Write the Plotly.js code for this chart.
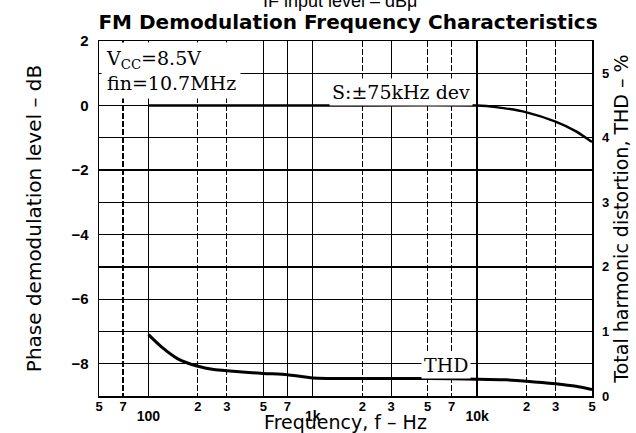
<!DOCTYPE html>
<html><head><meta charset="utf-8">
<script src="https://cdn.plot.ly/plotly-3.0.1.min.js"></script>
<style>html,body{margin:0;padding:0;background:#fff;}#chart{width:636px;height:433px;}</style>
</head><body><div id="chart"></div>
<script>
// Phase demodulation level (left axis, dB)
const levelFreq = [100, 1000, 10000, 13000, 20000, 30000, 40000, 50000];
const levelDb   = [0, 0, 0, -0.05, -0.21, -0.5, -0.8, -1.13];
// Total harmonic distortion (right axis, %)
const thdFreq = [100, 120, 150, 200, 250, 300, 500, 700, 1000, 2000, 3000, 5000, 10000, 15000, 20000, 30000, 40000, 50000];
const thdPct  = [0.95, 0.76, 0.58, 0.46, 0.41, 0.39, 0.35, 0.33, 0.28, 0.27, 0.27, 0.27, 0.26, 0.25, 0.23, 0.19, 0.15, 0.10];
// x tick labels and grid
const minorTickVals = [50, 70, 200, 300, 500, 700, 2000, 3000, 5000, 7000, 20000, 30000, 50000];
const minorTickText = ['5', '7', '2', '3', '5', '7', '2', '3', '5', '7', '2', '3', '5'];
const majorTickVals = [100, 1000, 10000];
const majorTickText = ['100', '1k', '10k'];
const extraSolidGridVals = [500, 700, 3000];
const dashedGridVals = [70, 200, 300, 2000, 5000, 7000, 20000, 30000];
// y tick labels and grid
const leftTickVals = [2, 0, -2, -4, -6, -8];
const leftMinorVals = [1, -1, -3, -5, -7];
const rightTickVals = [0, 1, 2, 3, 4, 5];

const sans = 'Liberation Sans, Arial, sans-serif';
const wideSans = 'DejaVu Sans, sans-serif';
const serif = 'DejaVu Serif, serif';

const traces = [
  {x: levelFreq, y: levelDb, xaxis: 'x', yaxis: 'y', mode: 'lines', name: 'Level',
   line: {color: '#000', width: 2.4, shape: 'spline', smoothing: 0.6}, hoverinfo: 'x+y'},
  {x: thdFreq, y: thdPct, xaxis: 'x', yaxis: 'y2', mode: 'lines', name: 'THD',
   line: {color: '#000', width: 3, shape: 'spline', smoothing: 0.6}, hoverinfo: 'x+y'},
  {x: [null], y: [null], xaxis: 'x2', yaxis: 'y', mode: 'lines', showlegend: false, hoverinfo: 'skip'}
];

const xr = [Math.log10(50), Math.log10(50000)];
const layout = {
  width: 636, height: 433,
  margin: {l: 99, r: 44, t: 41, b: 37},
  paper_bgcolor: '#fff', plot_bgcolor: '#fff',
  showlegend: false,
  title: {text: 'FM Demodulation Frequency Characteristics', x: 348/636, xanchor: 'center',
          y: 1 - 22/433, yanchor: 'middle', font: {family: wideSans, size: 20, weight: 'bold', color: '#000'}},
  xaxis: {
    type: 'log', range: xr, tickmode: 'array', tickvals: minorTickVals, ticktext: minorTickText,
    showgrid: false, ticks: '', tickfont: {family: sans, size: 13, weight: 'bold', color: '#000'},
    ticklabelstandoff: -2,
    showline: true, mirror: true, linecolor: '#000', linewidth: 1.5, zeroline: false,
    minor: {tickmode: 'array', tickvals: dashedGridVals, showgrid: true, griddash: '6px,2px',
            gridcolor: '#000', gridwidth: 1.1, ticks: ''},
    title: {text: 'Frequency, f – Hz', font: {family: wideSans, size: 19, color: '#000'}, standoff: 11}
  },
  xaxis2: {
    type: 'log', range: xr, overlaying: 'x', side: 'bottom', anchor: 'y',
    tickmode: 'array', tickvals: majorTickVals, ticktext: majorTickText,
    showgrid: true, gridcolor: '#000', gridwidth: 1.3, ticks: '', ticklabelstandoff: 10,
    tickfont: {family: sans, size: 14, weight: 'bold', color: '#000'}, showline: false, zeroline: false,
    minor: {tickmode: 'array', tickvals: extraSolidGridVals, showgrid: true, gridcolor: '#000', gridwidth: 1.2, ticks: ''}
  },
  yaxis: {
    range: [-9, 2], tickmode: 'array', tickvals: leftTickVals, showgrid: true, gridcolor: '#000', gridwidth: 1.3,
    ticks: '', tickfont: {family: sans, size: 15, weight: 'bold', color: '#000'}, ticklabelstandoff: 6,
    showline: true, mirror: true, linecolor: '#000', linewidth: 1.5, zeroline: false,
    minor: {tickmode: 'array', tickvals: leftMinorVals, showgrid: true, gridcolor: '#000', gridwidth: 1.3, ticks: ''},
    title: {text: 'Phase demodulation level – dB', font: {family: wideSans, size: 20, color: '#000'}, standoff: 24}
  },
  yaxis2: {
    range: [0, 5.5], overlaying: 'y', side: 'right', anchor: 'x', tickmode: 'array', tickvals: rightTickVals,
    showgrid: false, ticks: '', zeroline: false, ticklabelstandoff: 9,
    tickfont: {family: sans, size: 13, weight: 'bold', color: '#000'},
    title: {text: 'Total harmonic distortion, THD – %', font: {family: wideSans, size: 19, color: '#000'}, standoff: 3}
  },
  annotations: [
    {text: 'V<sub>CC</sub>=8.5V<br>fin=10.7MHz', xref: 'paper', yref: 'paper', x: 0.004, y: 0.996,
     xanchor: 'left', yanchor: 'top', align: 'left', showarrow: false, bgcolor: '#fff', borderpad: 4,
     font: {family: serif, size: 19, color: '#000'}},
    {text: 'S:±75kHz dev', xref: 'paper', yref: 'paper', x: (401-99)/493, y: (396-92)/355,
     xanchor: 'center', yanchor: 'middle', showarrow: false, bgcolor: '#fff', borderpad: 2,
     font: {family: serif, size: 19, color: '#000'}},
    {text: 'THD', xref: 'paper', yref: 'paper', x: (446-99)/493, y: (396-365)/355,
     xanchor: 'center', yanchor: 'middle', showarrow: false, bgcolor: '#fff', borderpad: 2,
     font: {family: serif, size: 19, color: '#000'}},
    {text: 'IF input level – dBμ', xref: 'paper', yref: 'paper', x: (340-99)/493, y: (396-1)/355,
     xanchor: 'center', yanchor: 'middle', showarrow: false,
     font: {family: sans, size: 18, color: '#000'}}
  ]
};

Plotly.newPlot('chart', traces, layout, {staticPlot: true, displayModeBar: false});
</script>
</body></html>
